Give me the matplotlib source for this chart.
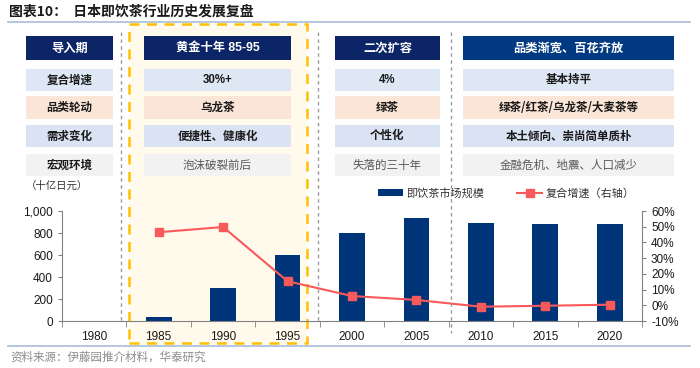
import matplotlib
matplotlib.use("Agg")
import matplotlib.pyplot as plt
from matplotlib.patches import Rectangle
from matplotlib.lines import Line2D
import numpy as np

plt.rcParams['font.family'] = ['Liberation Sans', 'Noto Sans CJK SC', 'DejaVu Sans']
CJK = ['Noto Sans CJK SC', 'DejaVu Sans']

# ---------------- data ----------------
years = ['1980', '1985', '1990', '1995', '2000', '2005', '2010', '2015', '2020']
market = [2, 40, 300, 600, 800, 933, 888, 879, 882]            # 十亿日元
growth = [np.nan, 46.5, 49.8, 15.3, 5.9, 3.4, -0.9, -0.3, 0.4]   # %

row_labels = ['复合增速', '品类轮动', '需求变化', '宏观环境']
stage_titles = ['导入期', '黄金十年 85-95', '二次扩容', '品类渐宽、百花齐放']
stage_cagr = ['30%+', '4%', '基本持平']
stage_category = ['乌龙茶', '绿茶', '绿茶/红茶/乌龙茶/大麦茶等']
stage_demand = ['便捷性、健康化', '个性化', '本土倾向、崇尚简单质朴']
stage_macro = ['泡沫破裂前后', '失落的三十年', '金融危机、地震、人口减少']

title = '图表10：  日本即饮茶行业历史发展复盘'
unit_label = '（十亿日元）'
legend_labels = ['即饮茶市场规模', '复合增速（右轴）']
source = '资料来源：伊藤园推介材料，华泰研究'

# ---------------- figure ----------------
W, H = 700, 368
fig = plt.figure(figsize=(W / 100, H / 100), dpi=100)
fig.patch.set_facecolor('white')


def fx(x):
    return x / W


def fy(y):
    return 1 - y / H


def rect(x0, y0, x1, y1, **kw):
    r = Rectangle((fx(x0), fy(y1)), fx(x1) - fx(x0), fy(y0) - fy(y1),
                  transform=fig.transFigure, **kw)
    fig.add_artist(r)
    return r


def vline(x, y0, y1, **kw):
    fig.add_artist(Line2D([fx(x), fx(x)], [fy(y0), fy(y1)], transform=fig.transFigure, **kw))


def hline(y, x0, x1, **kw):
    fig.add_artist(Line2D([fx(x0), fx(x1)], [fy(y), fy(y)], transform=fig.transFigure, **kw))


# title & frame lines
fig.text(fx(9), fy(12), title, fontsize=10, fontweight='bold', family=CJK,
         va='center', ha='left', color='#1a1a1a')
hline(22, 8, 690, color='#a9bcd6', lw=1.2)
hline(346, 8, 690, color='#a9bcd6', lw=1.2)
fig.text(fx(10), fy(357), source, fontsize=8.3, family=CJK, color='#8c8c8c',
         va='center', ha='left')

# yellow highlighted stage
rect(129, 24, 307, 343, facecolor='#fffaeb', edgecolor='#ffc000', lw=1.8,
     linestyle=(0, (4, 3)), zorder=0)

# dashed separators
for x, y1 in [(121, 322), (318, 323), (451, 333)]:
    vline(x, 32, y1, color='#999999', lw=1.0, linestyle=(0, (2.5, 2.5)), zorder=1)

# table
cols = [(26, 113), (144, 291), (335, 440), (463, 674)]
header_y = (36, 60)
row_y = [(69, 91), (96, 119), (125, 147), (154, 176)]
row_colors = ['#dde8f4', '#fbe5d6', '#dae3f3', '#f2f2f2']
header_colors = ['#0c2566', '#0c2566', '#0c2566', '#013a80']

for i, (x0, x1) in enumerate(cols):
    rect(x0, header_y[0], x1, header_y[1], facecolor=header_colors[i], edgecolor='none', zorder=2)
    fam = ['Liberation Sans'] + CJK if i == 1 else CJK
    fig.text(fx((x0 + x1) / 2), fy(sum(header_y) / 2), stage_titles[i], fontsize=8.8,
             color='white', fontweight='bold', family=fam, ha='center', va='center', zorder=3)
    for r, (y0, y1) in enumerate(row_y):
        rect(x0, y0, x1, y1, facecolor=row_colors[r], edgecolor='none', zorder=2)

cell_rows = [stage_cagr, stage_category, stage_demand, stage_macro]
for r, (y0, y1) in enumerate(row_y):
    yc = fy((y0 + y1) / 2)
    x0, x1 = cols[0]
    fig.text(fx((x0 + x1) / 2), yc, row_labels[r], fontsize=8.3, fontweight='bold',
             family=CJK, color='#1a1a1a', ha='center', va='center', zorder=3)
    for c in range(3):
        x0, x1 = cols[c + 1]
        txt = cell_rows[r][c]
        if r == 3:
            kw = dict(color='#595959', fontweight='normal')
        else:
            kw = dict(color='#1a1a1a', fontweight='bold')
        fam = ['Liberation Sans'] + CJK if r == 0 else CJK
        fig.text(fx((x0 + x1) / 2), yc, txt, fontsize=8.3, family=fam,
                 ha='center', va='center', zorder=3, **kw)

# ---------------- chart ----------------
ax = fig.add_axes([fx(62), fy(321), fx(642) - fx(62), fy(211) - fy(321)])
ax.set_facecolor('none')
x = np.arange(len(years))
bars = ax.bar(x, market, width=0.4, color='#003478', zorder=2, label=legend_labels[0])
ax.set_xlim(-0.5, len(years) - 0.5)
ax.set_ylim(0, 1000)
ax.set_yticks(np.arange(0, 1001, 200))
ax.set_yticklabels([f'{v:,}' for v in range(0, 1001, 200)])
ax.set_xticks(x)
ax.set_xticklabels(years)
ax.set_xticks(np.arange(-0.5, len(years) + 0.5, 1), minor=True)
ax.tick_params(axis='x', which='major', length=0, pad=7, labelsize=8.5, colors='#1a1a1a')
ax.tick_params(axis='x', which='minor', length=4, color='#808080', direction='out')
ax.tick_params(axis='y', length=3, color='#808080', labelsize=8.5, labelcolor='#1a1a1a')
for s in ['top', 'right']:
    ax.spines[s].set_visible(False)
for s in ['left', 'bottom']:
    ax.spines[s].set_color('#808080')
    ax.spines[s].set_linewidth(0.8)

ax2 = ax.twinx()
ax2.set_facecolor('none')
line, = ax2.plot(x, growth, color='#f8595a', lw=1.5, marker='s', markersize=6,
                 zorder=3, label=legend_labels[1])
ax2.set_ylim(-10, 60)
ax2.set_yticks(np.arange(-10, 61, 10))
ax2.set_yticklabels([f'{v}%' for v in range(-10, 61, 10)])
ax2.tick_params(axis='y', length=3, color='#808080', labelsize=8.5, labelcolor='#1a1a1a')
for s in ['top', 'left', 'bottom']:
    ax2.spines[s].set_visible(False)
ax2.spines['right'].set_color('#808080')
ax2.spines['right'].set_linewidth(0.8)

fig.text(fx(26), fy(186), unit_label, fontsize=7.5, family=CJK, color='#333333',
         ha='left', va='center')

leg = fig.legend([bars, line], legend_labels, loc='center left',
                 bbox_to_anchor=(fx(374), fy(193)), ncol=2, frameon=False,
                 prop={'family': CJK, 'size': 8}, handlelength=2.2, handleheight=0.6,
                 columnspacing=3.0, handletextpad=0.3, borderaxespad=0)
for t in leg.get_texts():
    t.set_color('#333333')

fig.savefig('out.png', dpi=100, facecolor='white')
